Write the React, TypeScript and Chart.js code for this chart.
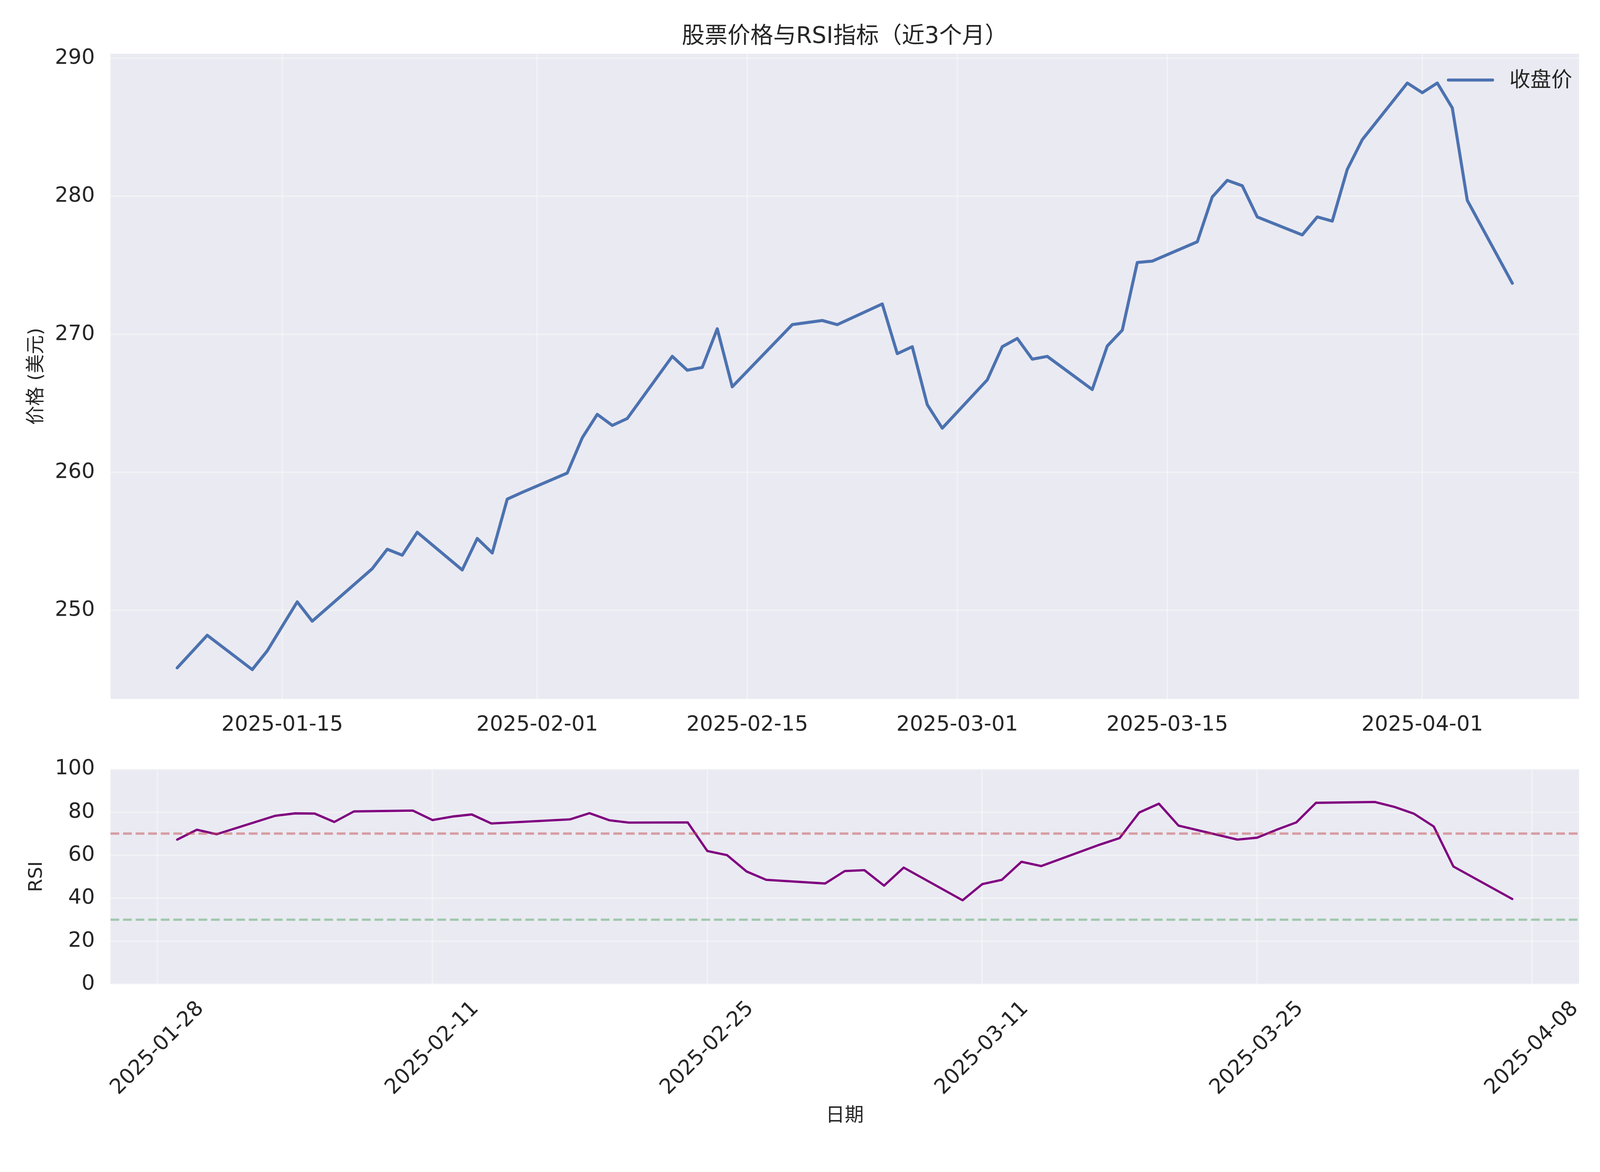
import React, { useEffect, useRef } from 'react';
import { Chart, registerables } from 'chart.js';

Chart.register(...registerables);

// ---------------- data ----------------
const priceDates = [
  '2025-01-08', '2025-01-10', '2025-01-13', '2025-01-14', '2025-01-15', '2025-01-16', '2025-01-17',
  '2025-01-21', '2025-01-22', '2025-01-23', '2025-01-24', '2025-01-27', '2025-01-28', '2025-01-29',
  '2025-01-30', '2025-01-31', '2025-02-03', '2025-02-04', '2025-02-05', '2025-02-06', '2025-02-07',
  '2025-02-10', '2025-02-11', '2025-02-12', '2025-02-13', '2025-02-14', '2025-02-18', '2025-02-19',
  '2025-02-20', '2025-02-21', '2025-02-24', '2025-02-25', '2025-02-26', '2025-02-27', '2025-02-28',
  '2025-03-03', '2025-03-04', '2025-03-05', '2025-03-06', '2025-03-07', '2025-03-10', '2025-03-11',
  '2025-03-12', '2025-03-13', '2025-03-14', '2025-03-17', '2025-03-18', '2025-03-19', '2025-03-20',
  '2025-03-21', '2025-03-24', '2025-03-25', '2025-03-26', '2025-03-27', '2025-03-28', '2025-03-31',
  '2025-04-01', '2025-04-02', '2025-04-03', '2025-04-04', '2025-04-07',
];

const closePrices = [
  245.84, 248.2, 245.71, 247.07, 248.85, 250.62, 249.22,
  253.02, 254.43, 254.0, 255.66, 252.93, 255.21, 254.16,
  258.06, 258.55, 259.95, 262.5, 264.2, 263.4, 263.9,
  268.4, 267.4, 267.6, 270.4, 266.2, 270.7, 270.85,
  271.0, 270.7, 272.2, 268.6, 269.1, 264.9, 263.2,
  266.7, 269.1, 269.7, 268.2, 268.4, 266.0, 269.15,
  270.3, 275.2, 275.3, 276.7, 279.95, 281.15, 280.76,
  278.5, 277.2, 278.5, 278.2, 281.95, 284.1, 288.2,
  287.5, 288.2, 286.4, 279.7, 273.7,
];

const rsiDates = [
  '2025-01-29', '2025-01-30', '2025-01-31', '2025-02-03', '2025-02-04', '2025-02-05', '2025-02-06',
  '2025-02-07', '2025-02-10', '2025-02-11', '2025-02-12', '2025-02-13', '2025-02-14', '2025-02-18',
  '2025-02-19', '2025-02-20', '2025-02-21', '2025-02-24', '2025-02-25', '2025-02-26', '2025-02-27',
  '2025-02-28', '2025-03-03', '2025-03-04', '2025-03-05', '2025-03-06', '2025-03-07', '2025-03-10',
  '2025-03-11', '2025-03-12', '2025-03-13', '2025-03-14', '2025-03-17', '2025-03-18', '2025-03-19',
  '2025-03-20', '2025-03-21', '2025-03-24', '2025-03-25', '2025-03-26', '2025-03-27', '2025-03-28',
  '2025-03-31', '2025-04-01', '2025-04-02', '2025-04-03', '2025-04-04', '2025-04-07',
];

const rsiValues = [
  67.2, 71.8, 69.7, 78.3, 79.4, 79.3, 75.4,
  80.3, 80.7, 76.3, 77.9, 78.9, 74.7, 76.6,
  79.5, 76.2, 75.1, 75.2, 61.9, 60.0, 52.4,
  48.5, 46.8, 52.6, 53.0, 45.8, 54.2, 39.0,
  46.5, 48.5, 56.9, 54.9, 64.9, 67.9, 79.8,
  83.9, 73.7, 67.2, 68.1, 71.8, 75.2, 84.3,
  84.7, 82.4, 79.2, 73.3, 54.7, 39.6,
];

const priceTickDates = ['2025-01-15', '2025-02-01', '2025-02-15', '2025-03-01', '2025-03-15', '2025-04-01'];
const rsiTickDates = ['2025-01-28', '2025-02-11', '2025-02-25', '2025-03-11', '2025-03-25', '2025-04-08'];
const priceTicks = [250, 260, 270, 280, 290];
const rsiTicks = [0, 20, 40, 60, 80, 100];
const rsiLevels = [70, 30];

const titleText = '股票价格与RSI指标（近3个月）';
const priceLabel = '收盘价';
const priceAxisLabel = '价格 (美元)';
const rsiAxisLabel = 'RSI';
const dateAxisLabel = '日期';

// ---------------- styles ----------------
const FAMILY = '"DejaVu Sans", "Noto Sans CJK SC", sans-serif';
const TEXT = '#262626';
const BG = '#EAEAF2';
const GRID = 'rgba(255,255,255,0.32)';
const PRICE_COLOR = '#4C72B0';
const RSI_COLOR = '#800080';
const LEVEL_COLORS = ['rgba(196,78,82,0.5)', 'rgba(85,168,104,0.5)'];

const FIG_W = 4200;
const FIG_H = 3000;
const TOP_H = 1960;

const DAY = 86400000;
const toDay = (str: string) => {
  const [y, m, d] = str.split('-').map(Number);
  return Date.UTC(y, m - 1, d) / DAY;
};
const padRange = (vals: number[], frac = 0.05) => {
  const mn = Math.min(...vals);
  const mx = Math.max(...vals);
  const p = (mx - mn) * frac;
  return [mn - p, mx + p];
};

const getScale = () => {
  if (typeof window === 'undefined') return 1;
  const w = window.innerWidth || FIG_W;
  const h = window.innerHeight || FIG_H;
  return Math.min(w / FIG_W, h / FIG_H, 1);
};

export default function App() {
  const topRef = useRef<HTMLCanvasElement | null>(null);
  const botRef = useRef<HTMLCanvasElement | null>(null);
  const s = getScale();
  const S = (v: number) => v * s;

  useEffect(() => {
    const TICK_SIZE = S(55);
    const LABEL_SIZE = S(50);
    const TITLE_SIZE = S(60);
    const GRID_W = S(4);
    const font = (size: number) => ({ family: FAMILY, size });

    const bgPlugin = {
      id: 'bgPlugin',
      beforeDraw(chart: any) {
        const { ctx, chartArea } = chart;
        ctx.save();
        ctx.fillStyle = BG;
        ctx.fillRect(chartArea.left, chartArea.top, chartArea.right - chartArea.left, chartArea.bottom - chartArea.top);
        ctx.restore();
      },
    };

    const titlePlugin = {
      id: 'titlePlugin',
      afterDraw(chart: any) {
        const { ctx, chartArea } = chart;
        ctx.save();
        ctx.font = `${TITLE_SIZE}px ${FAMILY}`;
        ctx.fillStyle = TEXT;
        ctx.textAlign = 'center';
        ctx.textBaseline = 'middle';
        ctx.fillText(titleText, (chartArea.left + chartArea.right) / 2, chartArea.top - S(44));
        ctx.restore();
      },
    };

    const legendPlugin = {
      id: 'legendPlugin',
      afterDatasetsDraw(chart: any) {
        const { ctx, chartArea } = chart;
        const ds = chart.data.datasets[0];
        const y = chartArea.top + S(69);
        ctx.save();
        ctx.strokeStyle = ds.borderColor;
        ctx.lineWidth = ds.borderWidth;
        ctx.lineCap = 'round';
        ctx.beginPath();
        ctx.moveTo(chartArea.right - S(343), y);
        ctx.lineTo(chartArea.right - S(227), y);
        ctx.stroke();
        ctx.font = `${TICK_SIZE}px ${FAMILY}`;
        ctx.fillStyle = TEXT;
        ctx.textAlign = 'left';
        ctx.textBaseline = 'middle';
        ctx.fillText(ds.label, chartArea.right - S(183), y + S(3));
        ctx.restore();
      },
    };

    const levelPlugin = {
      id: 'levelPlugin',
      afterDatasetsDraw(chart: any) {
        const { ctx, chartArea, scales } = chart;
        ctx.save();
        ctx.lineWidth = S(6);
        ctx.setLineDash([S(23), S(10)]);
        rsiLevels.forEach((lv, i) => {
          const y = scales.y.getPixelForValue(lv);
          ctx.strokeStyle = LEVEL_COLORS[i];
          ctx.beginPath();
          ctx.moveTo(chartArea.left, y);
          ctx.lineTo(chartArea.right, y);
          ctx.stroke();
        });
        ctx.restore();
      },
    };

    const rotatedTickPlugin = {
      id: 'rotatedTickPlugin',
      afterDraw(chart: any) {
        const { ctx, chartArea, scales } = chart;
        ctx.save();
        ctx.font = `${TICK_SIZE}px ${FAMILY}`;
        ctx.fillStyle = TEXT;
        ctx.textAlign = 'center';
        ctx.textBaseline = 'middle';
        const c = Math.SQRT1_2;
        rsiTickDates.forEach((d) => {
          const x = scales.x.getPixelForValue(toDay(d));
          const w = ctx.measureText(d).width;
          const h = TICK_SIZE * 1.164;
          const cy = chartArea.bottom + S(33) + (w * c + h * c) / 2;
          ctx.save();
          ctx.translate(x, cy);
          ctx.rotate(-Math.PI / 4);
          ctx.fillText(d, 0, 0);
          ctx.restore();
        });
        ctx.restore();
      },
    };

    const [pxMin, pxMax] = padRange(priceDates.map(toDay));
    const [pyMin, pyMax] = padRange(closePrices);
    const [rxMin, rxMax] = padRange(rsiDates.map(toDay));

    const top = new Chart(topRef.current as HTMLCanvasElement, {
      type: 'line',
      data: {
        datasets: [
          {
            label: priceLabel,
            data: priceDates.map((d, i) => ({ x: toDay(d), y: closePrices[i] })),
            borderColor: PRICE_COLOR,
            borderWidth: S(8),
            pointRadius: 0,
            tension: 0,
            fill: false,
            borderJoinStyle: 'round',
            borderCapStyle: 'round',
          } as any,
        ],
      },
      options: {
        responsive: false,
        animation: false,
        layout: { padding: { top: S(141), right: S(55), left: 0, bottom: 0 } },
        plugins: { legend: { display: false }, tooltip: { enabled: false }, title: { display: false } },
        scales: {
          x: {
            type: 'linear',
            min: pxMin,
            max: pxMax,
            afterBuildTicks: (sc: any) => {
              sc.ticks = priceTickDates.map((d) => ({ value: toDay(d) }));
            },
            afterFit: (sc: any) => {
              sc.height = S(TOP_H - 1835);
              sc.paddingLeft = 0;
              sc.paddingRight = 0;
            },
            grid: { color: GRID, lineWidth: GRID_W, drawTicks: false },
            border: { display: false },
            ticks: {
              autoSkip: false,
              maxRotation: 0,
              minRotation: 0,
              padding: S(36),
              color: TEXT,
              font: font(TICK_SIZE),
              callback: (v: any) => {
                const f = priceTickDates.find((d) => toDay(d) === v);
                return f ?? '';
              },
            },
          },
          y: {
            type: 'linear',
            min: pyMin,
            max: pyMax,
            afterBuildTicks: (sc: any) => {
              sc.ticks = priceTicks.map((v) => ({ value: v }));
            },
            afterFit: (sc: any) => {
              sc.width = S(290);
              sc.paddingTop = 0;
              sc.paddingBottom = 0;
            },
            grid: { color: GRID, lineWidth: GRID_W, drawTicks: false },
            border: { display: false },
            ticks: { padding: S(41), color: TEXT, font: font(TICK_SIZE) },
            title: {
              display: true,
              text: priceAxisLabel,
              color: TEXT,
              font: font(LABEL_SIZE),
              padding: { top: S(67), bottom: 0 },
            },
          },
        },
      } as any,
      plugins: [bgPlugin, titlePlugin, legendPlugin],
    });

    const bot = new Chart(botRef.current as HTMLCanvasElement, {
      type: 'line',
      data: {
        datasets: [
          {
            label: rsiAxisLabel,
            data: rsiDates.map((d, i) => ({ x: toDay(d), y: rsiValues[i] })),
            borderColor: RSI_COLOR,
            borderWidth: S(6),
            pointRadius: 0,
            tension: 0,
            fill: false,
            borderJoinStyle: 'round',
            borderCapStyle: 'round',
          } as any,
        ],
      },
      options: {
        responsive: false,
        animation: false,
        layout: { padding: { top: S(59), right: S(55), left: 0, bottom: 0 } },
        plugins: { legend: { display: false }, tooltip: { enabled: false }, title: { display: false } },
        scales: {
          x: {
            type: 'linear',
            min: rxMin,
            max: rxMax,
            afterBuildTicks: (sc: any) => {
              sc.ticks = rsiTickDates.map((d) => ({ value: toDay(d) }));
            },
            afterFit: (sc: any) => {
              sc.height = S(3000 - 2584);
              sc.paddingLeft = 0;
              sc.paddingRight = 0;
            },
            grid: { color: GRID, lineWidth: GRID_W, drawTicks: false },
            border: { display: false },
            ticks: { display: false },
            title: {
              display: true,
              text: dateAxisLabel,
              color: TEXT,
              font: font(LABEL_SIZE),
              padding: { top: 0, bottom: S(39) },
            },
          },
          y: {
            type: 'linear',
            min: 0,
            max: 100,
            afterBuildTicks: (sc: any) => {
              sc.ticks = rsiTicks.map((v) => ({ value: v }));
            },
            afterFit: (sc: any) => {
              sc.width = S(290);
              sc.paddingTop = 0;
              sc.paddingBottom = 0;
            },
            grid: { color: GRID, lineWidth: GRID_W, drawTicks: false },
            border: { display: false },
            ticks: { padding: S(41), color: TEXT, font: font(TICK_SIZE) },
            title: {
              display: true,
              text: rsiAxisLabel,
              color: TEXT,
              font: font(LABEL_SIZE),
              padding: { top: S(67), bottom: 0 },
            },
          },
        },
      } as any,
      plugins: [bgPlugin, levelPlugin, rotatedTickPlugin],
    });

    return () => {
      top.destroy();
      bot.destroy();
    };
  }, []);

  const W = S(FIG_W);
  const H1 = S(TOP_H);
  const H2 = S(FIG_H - TOP_H);

  return (
    <div style={{ position: 'absolute', left: 0, top: 0, width: W, height: S(FIG_H), background: '#ffffff' }}>
      <canvas
        ref={topRef}
        width={Math.round(W)}
        height={Math.round(H1)}
        style={{ position: 'absolute', left: 0, top: 0, width: Math.round(W), height: Math.round(H1) }}
      />
      <canvas
        ref={botRef}
        width={Math.round(W)}
        height={Math.round(H2)}
        style={{ position: 'absolute', left: 0, top: Math.round(H1), width: Math.round(W), height: Math.round(H2) }}
      />
    </div>
  );
}
